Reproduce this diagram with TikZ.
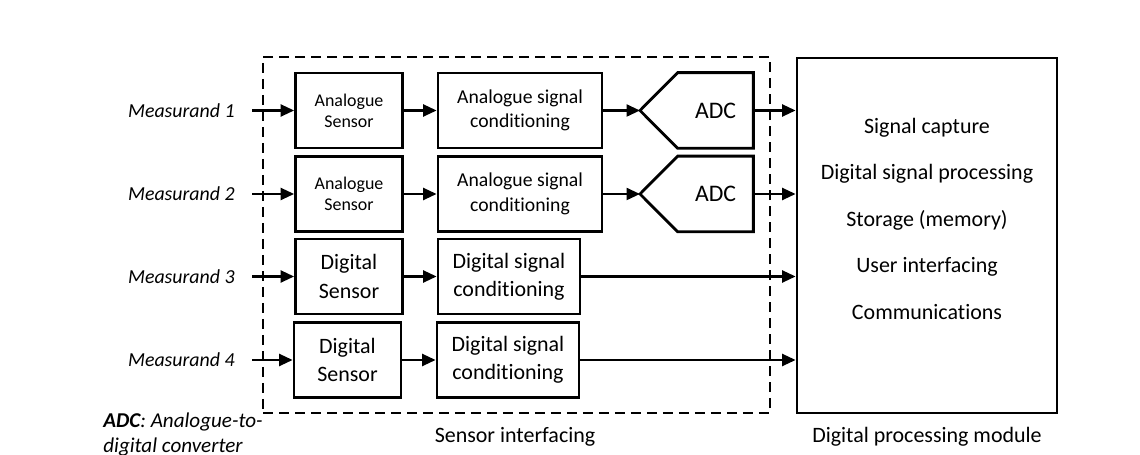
\documentclass[tikz,border=0pt]{standalone}
\usepackage{fontspec}
\setmainfont[Ligatures=NoCommon]{Carlito}
\usetikzlibrary{positioning,arrows.meta,calc}

\begin{document}
\begin{tikzpicture}[font=\fontsize{12.5}{16}\selectfont,
  blk/.style={draw,line width=1.6pt,minimum height=1.5cm,align=center,inner sep=1pt},
  sen/.style={blk,minimum width=2.14cm},
  acon/.style={blk,minimum width=3.28cm,font=\fontsize{11.2}{14}\selectfont},
  dcon/.style={blk,minimum width=2.84cm},
  adc/.style={minimum width=1.5cm,minimum height=1.5cm,font=\fontsize{13.5}{16}\selectfont},
  meas/.style={font=\fontsize{11.3}{13}\selectfont\itshape,anchor=east,inner xsep=0.34cm},
  task/.style={text height=1.8ex,text depth=0.5ex},
  arr/.style={line width=1.3pt,-{Triangle[length=0.27cm,width=0.24cm]}}]
  \useasboundingbox (0,0) rectangle (22.8,9.1);

  % sensor interfacing block
  \node[draw,line width=1pt,dash pattern=on 0.2cm off 0.12cm,minimum width=10.14cm,minimum height=7.12cm] (iface) at (10.33,4.4) {};
  \node (ifacelab) at (10.3,0.36) {Sensor interfacing};

  \foreach \i/\y in {1/6.89,2/5.22,3/3.57,4/1.9}
    \node[meas] (m\i) at (5.04,\y) {Measurand \i};

  \node[sen,font=\fontsize{10.2}{12}\selectfont] (sen1) at (6.98,6.89) {Analogue\\Sensor};
  \node[sen,font=\fontsize{10.2}{12}\selectfont] (sen2) at (6.98,5.22) {Analogue\\Sensor};
  \node[sen] (sen3) at (6.98,3.57) {Digital\\Sensor};
  \node[sen] (sen4) at (6.95,1.9) {Digital\\Sensor};

  \node[acon] (con1) at (10.4,6.89) {Analogue signal\\conditioning};
  \node[acon] (con2) at (10.4,5.22) {Analogue signal\\conditioning};
  \node[dcon] (con3) at (10.18,3.57) {Digital signal\\conditioning};
  \node[dcon] (con4) at (10.16,1.9) {Digital signal\\conditioning};

  \node[adc] (adc1) at (14.31,6.89) {ADC};
  \node[adc] (adc2) at (14.31,5.22) {ADC};
  \coordinate (tip1) at (12.8,6.89);
  \coordinate (tip2) at (12.8,5.22);
  \foreach \n in {1,2}
    \draw[line width=1.6pt,line join=miter] (adc\n.north west) -- (adc\n.north east) -- (adc\n.south east)
      -- (adc\n.south west) -- (tip\n) -- cycle;

  % digital processing module
  \node[draw,line width=1.6pt,minimum width=5.2cm,minimum height=7.1cm] (dpm) at (18.54,4.39) {};
  \node (dpmlab) at (18.54,0.36) {Digital processing module};
  \foreach \t [count=\k] in {Signal capture,Digital signal processing,Storage (memory),User interfacing,Communications}
    \node[task] (task\k) at (18.54,{6.54-0.93*(\k-1)}) {\t};

  % connectors
  \foreach \i in {1,...,4} {
    \draw[arr] (m\i) -- (sen\i);
    \draw[arr] (sen\i) -- (con\i);
  }
  \draw[arr] (con1) -- (tip1);
  \draw[arr] (con2) -- (tip2);
  \draw[arr] (adc1.east) -- (adc1.east -| dpm.west);
  \draw[arr] (adc2.east) -- (adc2.east -| dpm.west);
  \draw[arr] (con3) -- (con3 -| dpm.west);
  \draw[arr] (con4) -- (con4 -| dpm.west);

  \node[align=left,anchor=north west,inner sep=0pt,font=\fontsize{12}{13.7}\selectfont\itshape] (key) at (2.06,0.84)
    {\textbf{ADC}: Analogue-to-\\digital converter};
\end{tikzpicture}
\end{document}
